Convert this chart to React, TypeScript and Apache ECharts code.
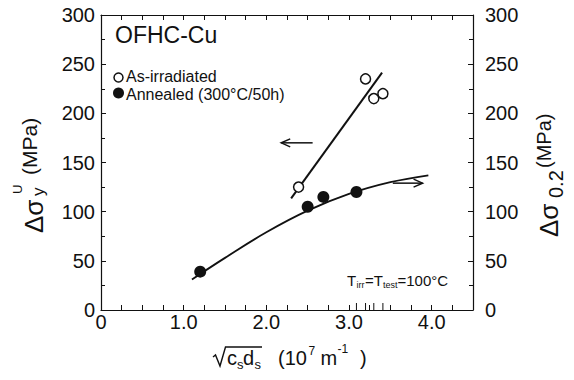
import React, { useEffect, useRef } from "react";
import * as echarts from "echarts";

// ---- data ----
const irradiatedX = [2.39, 3.2, 3.3, 3.41];
const irradiatedY = [125, 235, 215, 220];
const annealedX = [1.2, 2.5, 2.69, 3.09];
const annealedY = [39, 105, 115, 120];
const irrFitX = [2.3, 3.4];
const irrFitY = [113.6, 241.4];
const annFitX = [1.1, 1.5, 2.0, 2.5, 3.0, 3.5, 3.96];
const annFitY = [31, 53, 79, 101, 118, 130, 137];
// arrows: [xFrom, yFrom, xTo(head), yTo]
const arrowLeft = [2.56, 170, 2.18, 170];
const arrowRight = [3.53, 129, 3.89, 129];
const rugX = [3.09, 3.2, 3.3, 3.41];
const yTicks = [0, 50, 100, 150, 200, 250, 300];
const xLabelValues = [0, 1, 2, 3, 4];

const FONT = "'Liberation Sans', Arial, Helvetica, sans-serif";
const INK = "#111";

function zip(xs: number[], ys: number[]) {
  return xs.map((x, i) => [x, ys[i]]);
}

export default function App() {
  const ref = useRef<HTMLDivElement>(null);
  useEffect(() => {
    if (!ref.current) return;
    const chart = echarts.init(ref.current, undefined, { renderer: "svg" });
    const axisLine = { show: true, onZero: false, lineStyle: { color: INK, width: 1.2 } };
    const tick = { show: true, inside: true, length: 5, lineStyle: { color: INK, width: 1 } };
    const xFmt = (v: number) => {
      const hit = xLabelValues.find((t) => Math.abs(t - v) < 1e-6);
      if (hit === undefined) return "";
      return hit === 0 ? "0" : hit.toFixed(1);
    };
    const yAxisBase = {
      type: "value",
      min: yTicks[0],
      max: yTicks[yTicks.length - 1],
      interval: 50,
      axisLine,
      axisTick: tick,
      minorTick: { show: true, splitNumber: 2, length: 4, lineStyle: { color: INK, width: 1 } },
      splitLine: { show: false },
    };
    const arrowRender = (params: any, api: any) => {
      const p1 = api.coord([api.value(0), api.value(1)]);
      const p2 = api.coord([api.value(2), api.value(3)]);
      const dx = p2[0] - p1[0];
      const dy = p2[1] - p1[1];
      const len = Math.sqrt(dx * dx + dy * dy) || 1;
      const ux = dx / len;
      const uy = dy / len;
      const hl = 9;
      const hw = 4;
      const b1 = [p2[0] - ux * hl - uy * hw, p2[1] - uy * hl + ux * hw];
      const b2 = [p2[0] - ux * hl + uy * hw, p2[1] - uy * hl - ux * hw];
      const style = { stroke: INK, lineWidth: 1.5, fill: null };
      return {
        type: "group",
        children: [
          { type: "line", shape: { x1: p1[0], y1: p1[1], x2: p2[0], y2: p2[1] }, style },
          { type: "polyline", shape: { points: [b1, p2, b2] }, style },
        ],
      };
    };
    const rugRender = (params: any, api: any) => {
      const p = api.coord([api.value(0), 0]);
      return {
        type: "line",
        shape: { x1: p[0], y1: p[1], x2: p[0], y2: p[1] - 7 },
        style: { stroke: INK, lineWidth: 1 },
      };
    };

    const option: any = {
      animation: false,
      backgroundColor: "#fff",
      textStyle: { fontFamily: FONT },
      grid: { left: 101, right: 101, top: 15, bottom: 70, containLabel: false },
      xAxis: [
        {
          type: "value",
          position: "bottom",
          min: 0,
          max: 4.5,
          interval: 0.25,
          axisLine,
          axisTick: tick,
          axisLabel: { formatter: xFmt, fontSize: 20, color: INK, fontFamily: FONT, margin: 2 },
          splitLine: { show: false },
        },
        {
          type: "value",
          position: "top",
          min: 0,
          max: 4.5,
          interval: 0.25,
          axisLine,
          axisTick: tick,
          axisLabel: { show: false },
          splitLine: { show: false },
        },
      ],
      yAxis: [
        {
          ...yAxisBase,
          position: "left",
          axisLabel: { fontSize: 20, color: INK, fontFamily: FONT, margin: 6 },
        },
        {
          ...yAxisBase,
          position: "right",
          axisLabel: { fontSize: 20, color: INK, fontFamily: FONT, margin: 12 },
        },
      ],
      series: [
        {
          name: "irrFit",
          type: "line",
          data: zip(irrFitX, irrFitY),
          symbol: "none",
          lineStyle: { color: INK, width: 2 },
          z: 2,
        },
        {
          name: "annFit",
          type: "line",
          yAxisIndex: 1,
          data: zip(annFitX, annFitY),
          smooth: 0.4,
          symbol: "none",
          lineStyle: { color: INK, width: 1.8 },
          z: 2,
        },
        {
          name: "As-irradiated",
          type: "scatter",
          data: zip(irradiatedX, irradiatedY),
          symbol: "circle",
          symbolSize: 10,
          itemStyle: { color: "#fff", borderColor: INK, borderWidth: 1.5, opacity: 1 },
          z: 5,
        },
        {
          name: "Annealed (300°C/50h)",
          type: "scatter",
          yAxisIndex: 1,
          data: zip(annealedX, annealedY),
          symbol: "circle",
          symbolSize: 12,
          itemStyle: { color: INK, opacity: 1 },
          z: 5,
        },
        {
          type: "custom",
          renderItem: arrowRender,
          data: [arrowLeft, arrowRight],
          encode: { x: [0, 2], y: [1, 3] },
          silent: true,
          z: 3,
        },
        {
          type: "custom",
          renderItem: rugRender,
          data: rugX.map((x) => [x, 0]),
          encode: { x: 0, y: 1 },
          silent: true,
          z: 3,
        },
      ],
      graphic: [
        // title
        {
          type: "text",
          x: 115,
          y: 35,
          style: { text: "OFHC-Cu", font: `23px ${FONT}`, fill: INK, verticalAlign: "middle", align: "left" },
        },
        // legend
        { type: "circle", shape: { cx: 118.5, cy: 77.5, r: 4.5 }, style: { fill: "#fff", stroke: INK, lineWidth: 1.5 } },
        {
          type: "text",
          x: 126,
          y: 76.5,
          style: { text: "As-irradiated", font: `16px ${FONT}`, fill: INK, verticalAlign: "middle" },
        },
        { type: "circle", shape: { cx: 118.5, cy: 93, r: 5.5 }, style: { fill: INK } },
        {
          type: "text",
          x: 126,
          y: 94.5,
          style: { text: "Annealed (300°C/50h)", font: `16px ${FONT}`, fill: INK, verticalAlign: "middle" },
        },
        // T_irr = T_test = 100°C
        { type: "text", x: 347, y: 280, style: { text: "T", font: `15px ${FONT}`, fill: INK, verticalAlign: "middle" } },
        { type: "text", x: 356.5, y: 285, style: { text: "irr", font: `9px ${FONT}`, fill: INK, verticalAlign: "middle" } },
        { type: "text", x: 365, y: 280, style: { text: "=T", font: `15px ${FONT}`, fill: INK, verticalAlign: "middle" } },
        { type: "text", x: 383, y: 285, style: { text: "test", font: `9px ${FONT}`, fill: INK, verticalAlign: "middle" } },
        { type: "text", x: 397.5, y: 280, style: { text: "=100°C", font: `15px ${FONT}`, fill: INK, verticalAlign: "middle" } },
        // x axis name: sqrt(c_s d_s) (10^7 m^-1)
        {
          type: "polyline",
          shape: { points: [[213, 357], [215.5, 355], [220, 366], [225.5, 347], [262, 347]] },
          style: { stroke: INK, lineWidth: 1.4, fill: null },
        },
        { type: "text", x: 227, y: 358, style: { text: "c", font: `20px ${FONT}`, fill: INK, verticalAlign: "middle" } },
        { type: "text", x: 237, y: 364, style: { text: "s", font: `13px ${FONT}`, fill: INK, verticalAlign: "middle" } },
        { type: "text", x: 243, y: 358, style: { text: "d", font: `20px ${FONT}`, fill: INK, verticalAlign: "middle" } },
        { type: "text", x: 254.5, y: 364, style: { text: "s", font: `13px ${FONT}`, fill: INK, verticalAlign: "middle" } },
        { type: "text", x: 278, y: 358, style: { text: "(10", font: `20px ${FONT}`, fill: INK, verticalAlign: "middle" } },
        { type: "text", x: 308.5, y: 351, style: { text: "7", font: `12px ${FONT}`, fill: INK, verticalAlign: "middle" } },
        { type: "text", x: 320.5, y: 358, style: { text: "m", font: `20px ${FONT}`, fill: INK, verticalAlign: "middle" } },
        { type: "text", x: 337.5, y: 349, style: { text: "-1", font: `12px ${FONT}`, fill: INK, verticalAlign: "middle" } },
        { type: "text", x: 360, y: 358, style: { text: ")", font: `20px ${FONT}`, fill: INK, verticalAlign: "middle" } },
        // left y-axis name: Δσ_y^U (MPa)
        {
          type: "group",
          x: 33.5,
          y: 233,
          rotation: Math.PI / 2,
          children: [
            { type: "text", x: 0, y: 0, style: { text: "Δσ", font: `26px ${FONT}`, fill: INK, verticalAlign: "middle" } },
            { type: "text", x: 37, y: 5, style: { text: "y", font: `17px ${FONT}`, fill: INK, verticalAlign: "middle" } },
            { type: "text", x: 39, y: -16, style: { text: "U", font: `13px ${FONT}`, fill: INK, verticalAlign: "middle" } },
            { type: "text", x: 58, y: -4.5, style: { text: "(MPa)", font: `21px ${FONT}`, fill: INK, verticalAlign: "middle" } },
          ],
        },
        // right y-axis name: Δσ_0.2 (MPa)
        {
          type: "group",
          x: 548.5,
          y: 237,
          rotation: Math.PI / 2,
          children: [
            { type: "text", x: 0, y: 0, style: { text: "Δσ", font: `26px ${FONT}`, fill: INK, verticalAlign: "middle" } },
            { type: "text", x: 39, y: 7, style: { text: "0.2", font: `20px ${FONT}`, fill: INK, verticalAlign: "middle" } },
            { type: "text", x: 69, y: -5, style: { text: "(MPa)", font: `20px ${FONT}`, fill: INK, verticalAlign: "middle" } },
          ],
        },
      ],
    };
    chart.setOption(option);
    return () => chart.dispose();
  }, []);
  return (
    <div
      ref={ref}
      style={{ position: "fixed", left: 0, top: 0, width: 574, height: 380, background: "#fff" }}
    />
  );
}
